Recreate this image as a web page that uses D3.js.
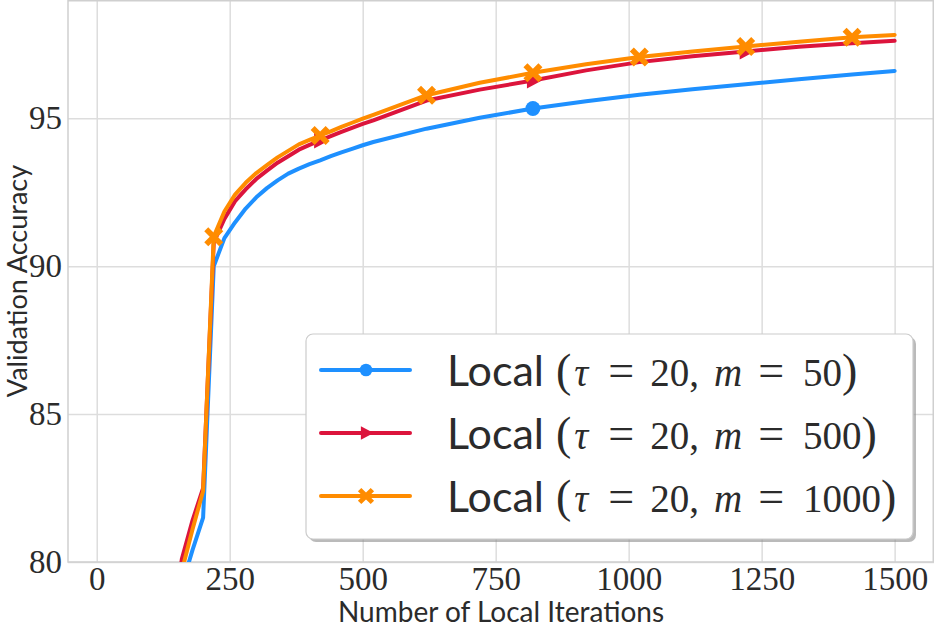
<!DOCTYPE html>
<html>
<head>
<meta charset="utf-8">
<script src="https://cdn.jsdelivr.net/npm/d3@7"></script>
<style>
  body { margin: 0; background: #fff; }
  svg { display: block; }
</style>
</head>
<body>
<div id="chart"></div>
<script>
const width = 934;
const height = 630;

// iterations shared by all three runs
const iterations = [20, 140, 160, 180, 200, 220, 240, 260, 280, 300, 320, 340, 360, 380, 400,
    420, 440, 460, 480, 500, 520, 620, 720, 820, 920, 1020, 1120, 1220, 1320, 1420, 1500];

const accM50 = [55.0, 76.0, 79.2, 80.4, 81.5, 90.0, 90.95, 91.48, 91.95, 92.33, 92.64, 92.9, 93.13, 93.3, 93.45,
    93.58, 93.72, 93.85, 93.97, 94.09, 94.2, 94.65, 95.02, 95.33, 95.58, 95.8, 95.98, 96.15, 96.32, 96.48, 96.6];
const accM500 = [60.0, 77.5, 80.1, 81.4, 82.5, 90.8, 91.6, 92.2, 92.6, 92.95, 93.23, 93.5, 93.72, 93.94, 94.1,
    94.25, 94.4, 94.54, 94.68, 94.81, 94.93, 95.6, 95.97, 96.28, 96.62, 96.9, 97.1, 97.26, 97.42, 97.54, 97.62];
const accM1000 = [60.0, 77.0, 79.7, 81.1, 82.4, 91.0, 91.85, 92.42, 92.82, 93.15, 93.42, 93.68, 93.9, 94.12, 94.27,
    94.42, 94.56, 94.71, 94.85, 94.99, 95.12, 95.78, 96.2, 96.54, 96.83, 97.07, 97.26, 97.43, 97.59, 97.74, 97.82];

// where each curve carries a marker
const markM50 = [20, 820];
const markM500 = [20, 420, 820, 1220];
const markM1000 = [20, 220, 420, 620, 820, 1020, 1220, 1420];

const mValues = [50, 500, 1000];
const xTicks = [0, 250, 500, 750, 1000, 1250, 1500];
const yTicks = [80, 85, 90, 95];

const plot = { left: 68, right: 934, top: 0, bottom: 562 };

const svg = d3.select("#chart").append("svg").attr("width", width).attr("height", height);

const x = d3.scaleLinear().domain([-54, 1574]).range([plot.left, plot.right]);
const y = d3.scaleLinear().domain([80, 99]).range([plot.bottom, plot.top]);

const gridColor = "#dddddd";
const textColor = "#2b2b2b";
const serif = "'Liberation Serif', 'DejaVu Serif', serif";
const sans = "Lato, 'Open Sans', sans-serif";

// grid lines
svg.append("g")
    .attr("transform", `translate(0,${plot.bottom})`)
    .call(d3.axisBottom(x).tickValues(xTicks).tickSize(-(plot.bottom - plot.top)).tickFormat(""))
    .call(g => g.select(".domain").remove())
    .call(g => g.selectAll("line").attr("stroke", gridColor).attr("stroke-width", 1.5));

svg.append("g")
    .attr("transform", `translate(${plot.left},0)`)
    .call(d3.axisLeft(y).tickValues(yTicks).tickSize(-(plot.right - plot.left)).tickFormat(""))
    .call(g => g.select(".domain").remove())
    .call(g => g.selectAll("line").attr("stroke", gridColor).attr("stroke-width", 1.5));

// spines
svg.append("rect")
    .attr("x", plot.left).attr("y", plot.top + 0.75)
    .attr("width", plot.right - plot.left - 0.75).attr("height", plot.bottom - plot.top - 0.75)
    .attr("fill", "none").attr("stroke", "#cfcfcf").attr("stroke-width", 1.5);

// tick labels
svg.append("g")
    .attr("transform", `translate(0,${plot.bottom})`)
    .call(d3.axisBottom(x).tickValues(xTicks).tickSize(0).tickPadding(5).tickFormat(d3.format("d")))
    .call(g => g.select(".domain").remove())
    .call(g => g.selectAll("text").attr("font-family", serif).attr("font-size", 33).attr("fill", textColor));

svg.append("g")
    .attr("transform", `translate(${plot.left},0)`)
    .call(d3.axisLeft(y).tickValues(yTicks).tickSize(0).tickPadding(6).tickFormat(d3.format("d")))
    .call(g => g.select(".domain").remove())
    .call(g => g.selectAll("text").attr("font-family", serif).attr("font-size", 33).attr("fill", textColor));

// axis titles
svg.append("text")
    .attr("x", 501).attr("y", 622)
    .attr("text-anchor", "middle")
    .attr("font-family", sans).attr("font-size", 28).attr("fill", textColor)
    .text("Number of Local Iterations");

svg.append("text")
    .attr("transform", "translate(27,281) rotate(-90)")
    .attr("text-anchor", "middle")
    .attr("font-family", sans).attr("font-size", 27).attr("fill", textColor)
    .text("Validation Accuracy");

// curves
svg.append("clipPath").attr("id", "plot-clip")
    .append("rect")
    .attr("x", plot.left).attr("y", plot.top)
    .attr("width", plot.right - plot.left).attr("height", plot.bottom - plot.top);

const series = [
    { values: accM50, marks: markM50, color: "#1e90ff", marker: "circle" },
    { values: accM500, marks: markM500, color: "#dc143c", marker: "triangle" },
    { values: accM1000, marks: markM1000, color: "#ff8c00", marker: "cross" }
];

const line = d3.line()
    .x(d => x(d[0]))
    .y(d => y(d[1]));

function markerPath(type, k = 1) {
    if (type === "circle") return d3.symbol(d3.symbolCircle, 175 * k * k)();
    if (type === "triangle") return `M${-6 * k},${-8 * k} L${9 * k},0 L${-6 * k},${8 * k} Z`;
    // filled X
    const a = 4 * k, b = 9.5 * k;
    return `M${-b},${-b + a} L${-b + a},${-b} L0,${-a} L${b - a},${-b} L${b},${-b + a} L${a},0
            L${b},${b - a} L${b - a},${b} L0,${a} L${-b + a},${b} L${-b},${b - a} L${-a},0 Z`;
}

const curveGroup = svg.append("g").attr("clip-path", "url(#plot-clip)");

series.forEach(s => {
    const pts = iterations.map((it, i) => [it, s.values[i]]);
    curveGroup.append("path")
        .attr("d", line(pts))
        .attr("fill", "none")
        .attr("stroke", s.color)
        .attr("stroke-width", 4)
        .attr("stroke-linejoin", "round")
        .attr("stroke-linecap", "round");
    curveGroup.selectAll(null)
        .data(pts.filter(p => s.marks.includes(p[0])))
        .enter()
        .append("path")
        .attr("d", markerPath(s.marker))
        .attr("transform", d => `translate(${x(d[0])},${y(d[1])})`)
        .attr("fill", s.color);
});

// legend
const legend = svg.append("g").attr("transform", "translate(306,334)");
legend.append("rect")
    .attr("x", 3).attr("y", 3).attr("width", 607).attr("height", 205).attr("rx", 7)
    .attr("fill", "#8c8c8c").attr("opacity", 0.6);
legend.append("rect")
    .attr("width", 607).attr("height", 205).attr("rx", 7)
    .attr("fill", "#ffffff").attr("stroke", "#cccccc").attr("stroke-width", 1.2);

series.forEach((s, i) => {
    const rowY = 36 + i * 63;
    const row = legend.append("g").attr("transform", `translate(0,${rowY})`);
    row.append("line")
        .attr("x1", 15).attr("x2", 104)
        .attr("stroke", s.color).attr("stroke-width", 4).attr("stroke-linecap", "round");
    row.append("path")
        .attr("d", markerPath(s.marker, 0.85))
        .attr("transform", "translate(60,0)")
        .attr("fill", s.color);

    const label = row.append("text")
        .attr("x", 141).attr("y", 16)
        .attr("font-family", serif).attr("font-size", 39).attr("fill", textColor);
    label.append("tspan").attr("font-family", sans).attr("font-size", 43).text("Local");
    label.append("tspan").attr("dx", 12).attr("font-size", 46).text("(");
    label.append("tspan").attr("dx", 3).attr("font-style", "italic").text("τ");
    label.append("tspan").attr("dx", 20).attr("font-size", 46).text("=");
    label.append("tspan").attr("dx", 16).text("20,");
    label.append("tspan").attr("dx", 15).attr("font-style", "italic").text("m");
    label.append("tspan").attr("dx", 16).attr("font-size", 46).text("=");
    label.append("tspan").attr("dx", 19).text(`${mValues[i]}`);
    label.append("tspan").attr("font-size", 46).text(")");
});
</script>
</body>
</html>
